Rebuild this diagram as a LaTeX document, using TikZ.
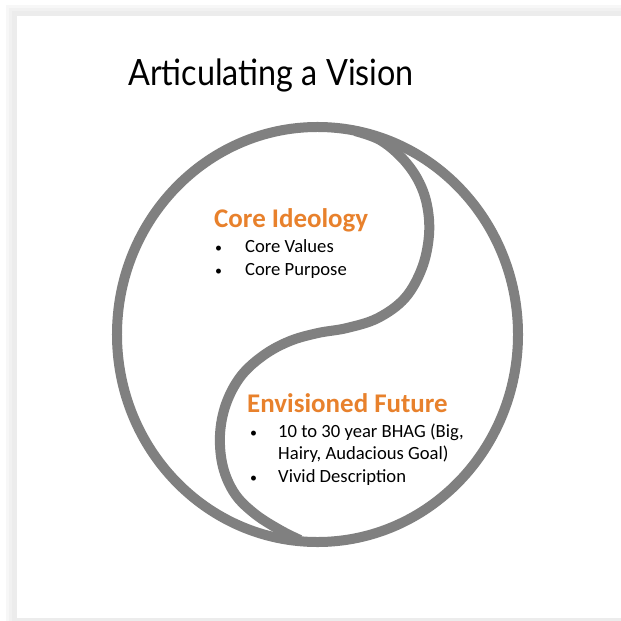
\documentclass[tikz,border=0pt]{standalone}
\usepackage{fontspec}
\setmainfont{Carlito}
\newfontfamily\titlefont{Lato}
\definecolor{ringgray}{HTML}{808080}
\definecolor{headorange}{HTML}{E8812C}
\newcommand{\smallbullet}{\scalebox{0.75}{•}}
\begin{document}
\begin{tikzpicture}[x=0.03cm,y=-0.03cm,
  ring/.style={draw=ringgray, line width=0.3cm},
  titletext/.style={font=\titlefont\fontsize{27.6}{32}\selectfont, anchor=base west, inner sep=0pt},
  headtext/.style={font=\bfseries\fontsize{23}{27}\selectfont, text=headorange, anchor=base west, inner sep=0pt},
  bodytext/.style={font=\fontsize{15.9}{19}\selectfont, anchor=base west, inner sep=0pt},
]
\useasboundingbox (0,0) rectangle (621,621);
% frame shadow and panel
\fill[gray!6] (6,5) rectangle (621,621);
\fill[gray!11] (9,8) rectangle (621,621);
\fill[gray!15] (12,11) rectangle (621,621);
\fill[white] (17,16) rectangle (621,618);
% outer ring
\draw[ring] (317.5,334.5) ellipse [x radius=6.015cm, y radius=6.225cm];
% S curve
\draw[ring] plot[smooth, tension=0.6] coordinates {
  (355,131) (380,140) (402,158) (418,180) (427,205) (429,235) (422,268)
  (405,298) (378,318) (347,328) (318,333) (290,341) (264,355) (241,376)
  (226,404) (220,435) (223,467) (235,494) (255,514) (280,530) (300,540)};
% texts
\node[titletext] (title) at (128,86) {\scalebox{1}[1.12]{Articulating a Vision}};
\node[headtext] (ci) at (214,227) {Core Ideology};
\node[bodytext] (b1) at (215,252) {\smallbullet};
\node[bodytext] (cv) at (245,252) {Core Values};
\node[bodytext] (b2) at (215,275) {\smallbullet};
\node[bodytext] (cp) at (245,275) {Core Purpose};
\node[headtext] (ef) at (247,412) {Envisioned Future};
\node[bodytext] (b3) at (250,437) {\smallbullet};
\node[bodytext] (bh1) at (278,437) {10 to 30 year BHAG (Big,};
\node[bodytext] (bh2) at (278,459) {Hairy, Audacious Goal)};
\node[bodytext] (b4) at (250,482) {\smallbullet};
\node[bodytext] (vd) at (278,482) {Vivid Description};
\end{tikzpicture}
\end{document}
